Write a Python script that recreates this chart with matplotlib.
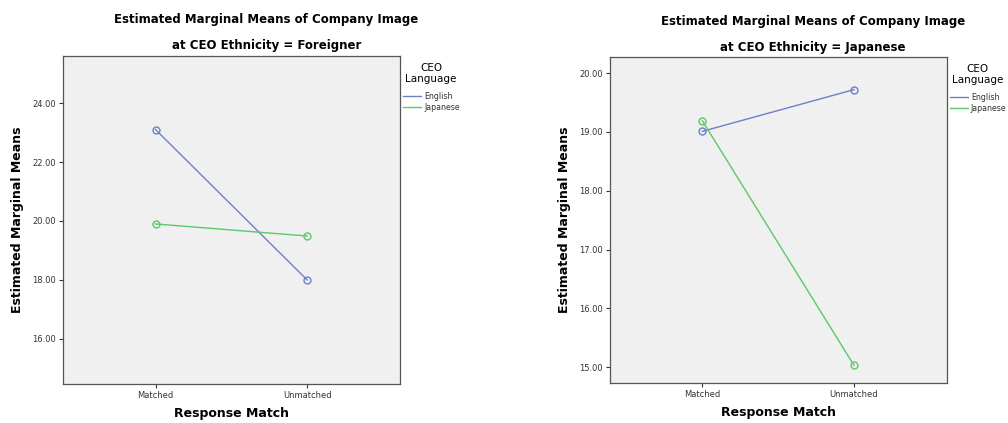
import numpy as np
import matplotlib.pyplot as plt
from matplotlib.lines import Line2D

# Estimated marginal means
groups = ["Matched", "Unmatched"]
series = ["English", "Japanese"]
foreigner_english = [23.10, 18.00]
foreigner_japanese = [19.90, 19.49]
japanese_english = [19.01, 19.72]
japanese_japanese = [19.19, 15.03]

foreigner_ticks = [16.0, 18.0, 20.0, 22.0, 24.0]
japanese_ticks = [15.0, 16.0, 17.0, 18.0, 19.0, 20.0]

colors = ["#6f7fc8", "#5cc86a"]
plt.rcParams['font.family'] = ['DejaVu Sans']

fig = plt.figure(figsize=(10.08, 4.23), dpi=100)
ax1 = fig.add_axes([0.0625, 0.092, 0.334, 0.776])
ax2 = fig.add_axes([0.605, 0.0946, 0.334, 0.770])

panels = [
  (ax1, "Foreigner", [foreigner_english, foreigner_japanese], foreigner_ticks, (14.47, 25.6)),
  (ax2, "Japanese", [japanese_english, japanese_japanese], japanese_ticks, (14.73, 20.27)),
]

x = np.arange(len(groups))
for (ax, eth, vals, ticks, ylim) in panels:
  ax.set_facecolor("#f0f0f0")
  for (name, v, c) in zip(series, vals, colors):
    ax.plot(x, v, color=c, lw=1.0, marker='o', markersize=5, mfc='none',
            mec=c, mew=1.0)
  ax.set_xlim(-0.61, 1.61)
  ax.set_ylim(*ylim)
  ax.set_xticks(x)
  ax.set_xticklabels(groups)
  ax.set_yticks(ticks)
  ax.set_yticklabels(["%.2f" % t for t in ticks])
  ax.tick_params(labelsize=6, colors="#333333", length=3, width=0.8, pad=2)
  for s in ax.spines.values():
    s.set_color("#555555")
    s.set_linewidth(0.9)
  ax.set_xlabel("Response Match", fontsize=9, fontweight='bold', labelpad=5)
  ax.set_ylabel("Estimated Marginal Means", fontsize=9, fontweight='bold', labelpad=6)
  # title is centred over plot + legend, not the plot alone
  ax.text(0.604, 1.011, "Estimated Marginal Means of Company Image\n\nat CEO Ethnicity = %s" % eth,
          transform=ax.transAxes, ha='center', va='bottom', fontsize=8.5,
          fontweight='bold', linespacing=1.0)
  # legend title drawn on its own so the gap to the entries matches
  ax.text(1.093, 0.979, "CEO\nLanguage", transform=ax.transAxes, ha='center',
          va='top', fontsize=7.5, multialignment='center', linespacing=1.15)
  handles = [Line2D([], [], color=c, lw=1.0) for c in colors]
  leg = ax.legend(handles, series, loc='upper left', bbox_to_anchor=(1.01, 0.89),
                  frameon=False, fontsize=5.7, handlelength=2.3, handletextpad=0.35,
                  labelspacing=0.2, borderaxespad=0, borderpad=0)
  for t in leg.get_texts():
    t.set_color("#333333")

fig.savefig("out.png", dpi=100)
